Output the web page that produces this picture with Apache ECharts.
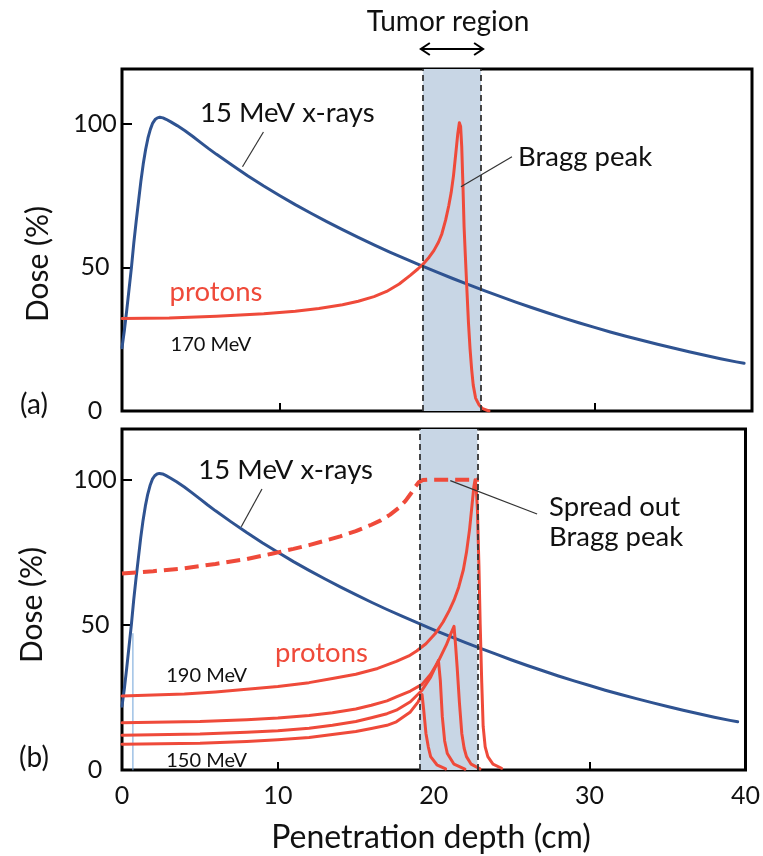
<!DOCTYPE html>
<html><head><meta charset="utf-8">
<script src="https://cdn.jsdelivr.net/npm/echarts@6/dist/echarts.min.js"></script>
<style>html,body{margin:0;padding:0;background:#fff}#c{width:763px;height:856px}</style>
</head><body><div id="c"></div>
<script>
// ---------- data ----------
const xTickLabels = [0, 10, 20, 30, 40];
const xTickMarks = [10, 20, 30];
const yTickLabels = [0, 50, 100];
const yTickMarks = [50, 100];
const tumorRange = [19.1, 22.8];

// 15 MeV x-ray depth dose [depth cm, dose %]
const xray15MeV = [[0,22],[0.15,28],[0.3,35],[0.45,42.5],[0.6,50],[0.75,58.5],[0.9,66],[1.05,73],[1.2,80],[1.35,86],
  [1.5,91],[1.65,95],[1.8,98],[1.95,100.2],[2.1,101.4],[2.25,102],[2.4,102.2],[2.6,102],[2.8,101.5],[3.1,100.6],
  [3.5,99.3],[4,97.5],[4.5,95.5],[5,93.4],[5.5,91.3],[6,89.3],[7,85.5],[8,81.8],[9,78.3],[10,75],[11,71.8],[12,68.8],
  [13,65.9],[14,63.1],[15,60.4],[16,57.8],[17,55.3],[18,52.9],[19,50.6],[20,48.3],[21,46.1],[22,44],[23,41.9],
  [24,39.9],[25,37.9],[26,36],[27,34.2],[28,32.4],[29,30.7],[30,29.1],[31,27.5],[32,26],[33,24.6],[34,23.2],
  [35,21.9],[36,20.6],[37,19.4],[38,18.2],[39,17.1],[39.5,16.6]];

// (a) 170 MeV proton beam
const proton170 = [[0,32.2],[3,32.4],[6,33],[9,33.8],[11,34.7],[12.5,35.7],[14,37],[15,38.2],[16,39.8],[16.8,41.6],
  [17.6,44.2],[18.3,47.2],[18.8,49.5],[19.1,51],[19.5,53.5],[19.8,55.8],[20.1,58.8],[20.3,61.5],[20.55,66.5],
  [20.75,71.5],[20.9,76],[21.05,82],[21.2,90],[21.32,96.5],[21.42,100.3],[21.5,99],[21.57,92],[21.65,78],[21.72,64],
  [21.8,54],[21.9,42],[22,30.5],[22.1,21.5],[22.2,14.5],[22.3,9],[22.45,4.5],[22.66,2.2],[22.9,0.8],[23.3,0]];

// (b) spread-out Bragg peak (dashed)
const sobp = [[0,67.7],[2,68.5],[4,69.5],[6,71],[8,72.7],[9.6,74.5],[11,76.2],[12,77.5],[13,79],[14,80.5],[15,82.3],
  [16,84.5],[16.6,86],[17.2,88],[17.8,90.5],[18.2,92.8],[18.5,95],[18.8,97.5],[19.05,99.2],[19.3,99.9],[19.6,100],
  [21,100],[22.9,100]];

// (b) individual proton beams
const proton190 = [[0,25.5],[4,26.2],[6,26.9],[8,27.8],[10,28.8],[12,30.1],[13.5,31.5],[15,33],[16.4,35],[17.6,37.4],
  [18.4,39.3],[18.9,41],[19.5,43.5],[20.1,47],[20.6,51],[21,55],[21.3,58.5],[21.6,63],[21.9,69],[22.1,75],[22.3,83],
  [22.45,91],[22.57,97.5],[22.65,100],[22.73,97],[22.8,90],[22.9,70],[22.98,50],[23.08,30],[23.17,15],[23.3,8],
  [23.47,4.6],[23.8,2],[24.35,0.6]];
const protonBeam2 = [[0,16.3],[5,16.7],[8,17.3],[10,17.9],[12,18.8],[13.5,19.7],[15,21],[16,22.3],[17,23.8],[17.6,25.2],
  [18.5,27.2],[19.25,29.5],[19.8,33],[20.3,37.5],[20.8,43],[21.1,47],[21.3,49.5],[21.4,43],[21.5,35.5],[21.65,23],
  [21.8,12.6],[21.95,7.5],[22.1,4.6],[22.4,2],[22.97,0.4]];
const protonBeam3 = [[0,12],[5,12.4],[8,13],[10,13.5],[12,14.4],[13.5,15.4],[15,16.7],[16,18],[17,19.4],[17.6,20.6],
  [18.5,23.5],[19.25,27.5],[19.8,32],[20.3,37.8],[20.42,31],[20.55,18.3],[20.7,10],[20.87,5.7],[21.3,2],[22,0.3]];
const proton150 = [[0,8.9],[5,9.2],[8,9.8],[10,10.4],[12,11.2],[13.5,12.2],[15,13.3],[16,14.3],[17,15.4],[17.6,16.6],
  [18.5,20],[19,23.5],[19.25,26],[19.35,21],[19.5,12.6],[19.65,8],[19.8,4.6],[20.2,1.8],[20.76,0.4]];

const stray = [[0.7,0],[0.7,47]];

// ---------- style ----------
const BLUE = '#2f5391', RED = '#ef4a3a', SHADE = '#c8d6e5';
const FONT = 'Lato';

const chart = echarts.init(document.getElementById('c'), null, {renderer: 'canvas'});

function xAxis(g, showLabels) {
  return {
    type: 'value', gridIndex: g, min: 0, max: 40, interval: 10,
    axisLine: {show: false},
    axisTick: {show: true, inside: true, length: 8, customValues: xTickMarks, lineStyle: {color: '#000', width: 2}},
    axisLabel: {show: showLabels, customValues: xTickLabels, margin: 13, fontFamily: FONT, fontSize: 25, color: '#111'},
    splitLine: {show: false}
  };
}
function yAxis(g, max) {
  return {
    type: 'value', gridIndex: g, min: 0, max: max, interval: 50,
    axisLine: {show: false},
    axisTick: {show: true, inside: true, length: 10, customValues: yTickMarks, lineStyle: {color: '#000', width: 2}},
    axisLabel: {customValues: yTickLabels, margin: 27, align: 'center', fontFamily: FONT, fontSize: 25, color: '#111'},
    splitLine: {show: false}
  };
}
function helper(g) {
  return {
    type: 'line', xAxisIndex: g, yAxisIndex: g, data: [[tumorRange[0], 0]], symbol: 'none', z: 1,
    lineStyle: {opacity: 0}, silent: true,
    markArea: {silent: true, itemStyle: {color: SHADE}, data: [[{xAxis: tumorRange[0]}, {xAxis: tumorRange[1]}]]},
    markLine: {silent: true, symbol: ['none', 'none'], label: {show: false},
      lineStyle: {color: '#333', width: 1.8, type: [6, 4]},
      data: [{xAxis: tumorRange[0]}, {xAxis: tumorRange[1]}]}
  };
}
function curve(g, data, color, width, extra) {
  return Object.assign({
    type: 'line', xAxisIndex: g, yAxisIndex: g, data: data, symbol: 'none',
    smooth: false, z: 3,
    lineStyle: {color: color, width: width, join: 'round', cap: 'round'}
  }, extra || {});
}

chart.setOption({
  animation: false,
  backgroundColor: '#fff',
  grid: [
    {left: 122, top: 69, width: 630, height: 342, show: true, borderColor: '#000', borderWidth: 3, backgroundColor: 'transparent'},
    {left: 122, top: 429, width: 630, height: 341, show: true, borderColor: '#000', borderWidth: 3, backgroundColor: 'transparent'}
  ],
  xAxis: [xAxis(0, false), xAxis(1, true)],
  yAxis: [yAxis(0, 119), yAxis(1, 117.5)],
  series: [
    helper(0),
    curve(0, xray15MeV, BLUE, 3),
    curve(0, proton170, RED, 3),
    helper(1),
    curve(1, xray15MeV, BLUE, 3),
    curve(1, stray, '#6fa3d8', 1),
    curve(1, sobp, RED, 4, {lineStyle: {color: RED, width: 4, type: [14, 7]}}),
    curve(1, proton190, RED, 3),
    curve(1, protonBeam2, RED, 3),
    curve(1, protonBeam3, RED, 3),
    curve(1, proton150, RED, 3)
  ]
});

// ---------- annotations (placed in data coordinates) ----------
const P = (g, p) => chart.convertToPixel({gridIndex: g}, p);
function txt(x, y, text, size, color, align, rot) {
  return {type: 'text', x: x, y: y, rotation: rot || 0, z: 10,
    style: {text: text, fontFamily: FONT, fontSize: size, fill: color || '#111',
      align: align || 'center', verticalAlign: 'middle', textAlign: align || 'center', textVerticalAlign: 'middle'}};
}
function txtD(g, p, text, size, color, align) { const q = P(g, p); return txt(q[0], q[1], text, size, color, align); }
function lineD(g, a, b) {
  const p = P(g, a), q = P(g, b);
  return {type: 'line', z: 10, shape: {x1: p[0], y1: p[1], x2: q[0], y2: q[1]}, style: {stroke: '#333', lineWidth: 1.2}};
}

const aL = P(0, [tumorRange[0], 0])[0] - 2, aR = P(0, [tumorRange[1], 0])[0] + 2, aY = 49;
const graphics = [
  txt((aL + aR) / 2 - 4, 22, 'Tumor region', 28),
  {type: 'line', z: 10, shape: {x1: aL, y1: aY, x2: aR, y2: aY}, style: {stroke: '#000', lineWidth: 2}},
  {type: 'polyline', z: 10, shape: {points: [[aL + 9, aY - 6], [aL, aY], [aL + 9, aY + 6]]}, style: {stroke: '#000', lineWidth: 2, fill: null}},
  {type: 'polyline', z: 10, shape: {points: [[aR - 9, aY - 6], [aR, aY], [aR - 9, aY + 6]]}, style: {stroke: '#000', lineWidth: 2, fill: null}},
  txt(38, 264, 'Dose (%)', 30, '#111', 'center', Math.PI / 2),
  txt(32, 605, 'Dose (%)', 30, '#111', 'center', Math.PI / 2),
  txt(34, 405, '(a)', 28),
  txt(34, 758, '(b)', 28),
  txt(431, 838, 'Penetration depth (cm)', 32),
  // panel (a)
  txtD(0, [10.5, 103.7], '15 MeV x-rays', 27.5),
  lineD(0, [8.98, 97.1], [7.65, 85]),
  txtD(0, [29.4, 88.3], 'Bragg peak', 27.5),
  lineD(0, [24.76, 88.5], [21.52, 78]),
  txtD(0, [5.97, 41.4], 'protons', 27.5, RED),
  txtD(0, [5.65, 23.1], '170 MeV', 20),
  // panel (b)
  txtD(1, [10.5, 103.2], '15 MeV x-rays', 27.5),
  lineD(1, [8.98, 96.8], [7.65, 83.8]),
  txtD(1, [27.4, 90.7], 'Spread out', 27.5, '#111', 'left'),
  txtD(1, [27.4, 80.1], 'Bragg peak', 27.5, '#111', 'left'),
  lineD(1, [21.06, 99.7], [26.63, 88.2]),
  txtD(1, [12.8, 40.4], 'protons', 27.5, RED),
  txtD(1, [5.43, 32.6], '190 MeV', 20),
  txtD(1, [5.43, 3.3], '150 MeV', 20)
];
chart.setOption({graphic: graphics});
</script>
</body></html>
